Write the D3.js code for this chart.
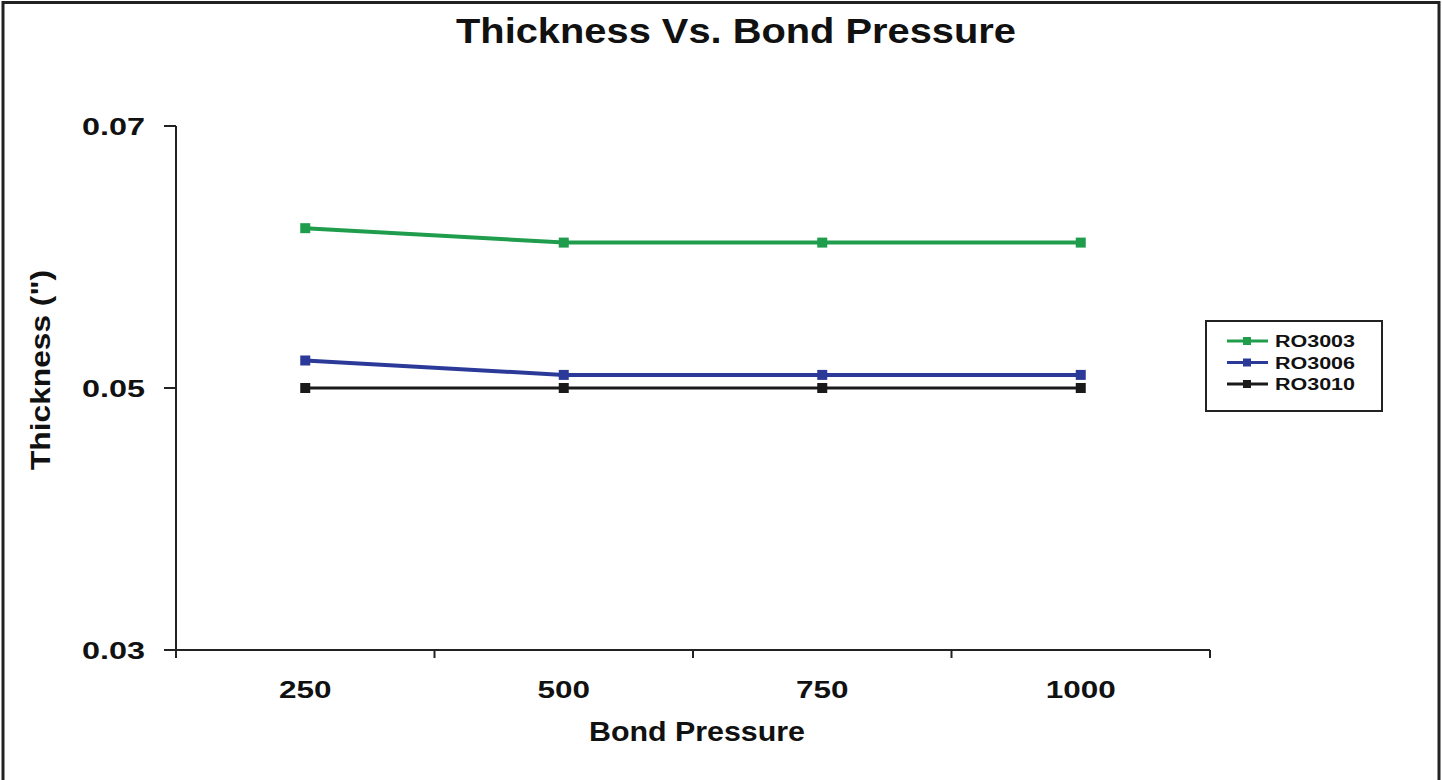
<!DOCTYPE html>
<html>
<head>
<meta charset="utf-8">
<script src="https://cdn.jsdelivr.net/npm/d3@7"></script>
<style>
  body { margin: 0; background: #fff; }
  text { font-family: "Liberation Sans", Arial, sans-serif; font-weight: bold; fill: #111; }
</style>
</head>
<body>
<script>
// data
const pressures = ['250', '500', '750', '1000']
const ro3003 = [0.0622, 0.0611, 0.0611, 0.0611]
const ro3006 = [0.0521, 0.0510, 0.0510, 0.0510]
const ro3010 = [0.0500, 0.0500, 0.0500, 0.0500]
const seriesNames = ['RO3003', 'RO3006', 'RO3010']
const yTicks = [0.03, 0.05, 0.07]

const w = 1442
const h = 780
const colors = ['#1f9d4c', '#2b3a99', '#1a1a1a']
const series = [ro3003, ro3006, ro3010]

const svg = d3.select('body')
  .append('svg')
  .attr('width', w)
  .attr('height', h)

// outer frame
svg.append('rect')
  .attr('x', 3).attr('y', 2.5)
  .attr('width', 1436).attr('height', 800)
  .attr('fill', 'none')
  .attr('stroke', '#222')
  .attr('stroke-width', 3)

const x = d3.scaleBand()
  .domain(pressures)
  .range([176, 1210])

const y = d3.scaleLinear()
  .domain([0.03, 0.07])
  .range([650, 126])

// x axis, ticks at band edges
const xAxis = svg.append('g')
xAxis.append('line')
  .attr('x1', 176).attr('x2', 1210)
  .attr('y1', 650).attr('y2', 650)
  .attr('stroke', '#222').attr('stroke-width', 2)
xAxis.selectAll('.xt')
  .data(pressures.concat(['end']))
  .enter()
  .append('line')
  .attr('x1', (d, i) => i < pressures.length ? x(d) : x.range()[1])
  .attr('x2', (d, i) => i < pressures.length ? x(d) : x.range()[1])
  .attr('y1', 650).attr('y2', 658)
  .attr('stroke', '#222').attr('stroke-width', 2)
xAxis.selectAll('.xl')
  .data(pressures)
  .enter()
  .append('text')
  .attr('x', d => x(d) + x.bandwidth() / 2)
  .attr('y', 698)
  .attr('text-anchor', 'middle')
  .attr('font-size', 24)
  .attr('textLength', d => d.length * 17.5)
  .attr('lengthAdjust', 'spacingAndGlyphs')
  .text(d => d)

// y axis
const yAxis = svg.append('g')
yAxis.append('line')
  .attr('x1', 176).attr('x2', 176)
  .attr('y1', 126).attr('y2', 650)
  .attr('stroke', '#222').attr('stroke-width', 2)
yAxis.selectAll('.yt')
  .data(yTicks)
  .enter()
  .append('line')
  .attr('x1', 164).attr('x2', 176)
  .attr('y1', d => y(d)).attr('y2', d => y(d))
  .attr('stroke', '#222').attr('stroke-width', 2)
yAxis.selectAll('.yl')
  .data(yTicks)
  .enter()
  .append('text')
  .attr('x', 145)
  .attr('y', d => y(d) + 9)
  .attr('text-anchor', 'end')
  .attr('font-size', 24)
  .attr('textLength', 63)
  .attr('lengthAdjust', 'spacingAndGlyphs')
  .text(d => d.toFixed(2))

// series
const line = d3.line()
  .x((d, i) => x(pressures[i]) + x.bandwidth() / 2)
  .y(d => y(d))

series.forEach((s, k) => {
  svg.append('path')
    .datum(s)
    .attr('d', line)
    .attr('fill', 'none')
    .attr('stroke', colors[k])
    .attr('stroke-width', k === 2 ? 3 : 4)
  svg.selectAll('.m' + k)
    .data(s)
    .enter()
    .append('rect')
    .attr('x', (d, i) => x(pressures[i]) + x.bandwidth() / 2 - 5)
    .attr('y', d => y(d) - 5)
    .attr('width', 10)
    .attr('height', 10)
    .attr('fill', colors[k])
})

// titles
svg.append('text')
  .attr('x', 736).attr('y', 43)
  .attr('text-anchor', 'middle')
  .attr('font-size', 35)
  .attr('textLength', 560)
  .attr('lengthAdjust', 'spacingAndGlyphs')
  .text('Thickness Vs. Bond Pressure')

svg.append('text')
  .attr('x', 697).attr('y', 741)
  .attr('text-anchor', 'middle')
  .attr('font-size', 27)
  .attr('textLength', 216)
  .attr('lengthAdjust', 'spacingAndGlyphs')
  .text('Bond Pressure')

svg.append('text')
  .attr('transform', 'translate(50,370) rotate(-90)')
  .attr('text-anchor', 'middle')
  .attr('font-size', 27)
  .attr('textLength', 200)
  .attr('lengthAdjust', 'spacingAndGlyphs')
  .text('Thickness (")')

// legend
const lg = svg.append('g')
lg.append('rect')
  .attr('x', 1206).attr('y', 321)
  .attr('width', 176).attr('height', 90)
  .attr('fill', '#fff')
  .attr('stroke', '#222').attr('stroke-width', 2)
seriesNames.forEach((n, k) => {
  const ly = 341 + k * 21.5
  lg.append('line')
    .attr('x1', 1227).attr('x2', 1268)
    .attr('y1', ly).attr('y2', ly)
    .attr('stroke', colors[k]).attr('stroke-width', 3)
  lg.append('rect')
    .attr('x', 1243).attr('y', ly - 4)
    .attr('width', 8).attr('height', 8)
    .attr('fill', colors[k])
  lg.append('text')
    .attr('x', 1275).attr('y', ly + 6)
    .attr('font-size', 16)
    .attr('textLength', 80)
    .attr('lengthAdjust', 'spacingAndGlyphs')
    .text(n)
})
</script>
</body>
</html>
